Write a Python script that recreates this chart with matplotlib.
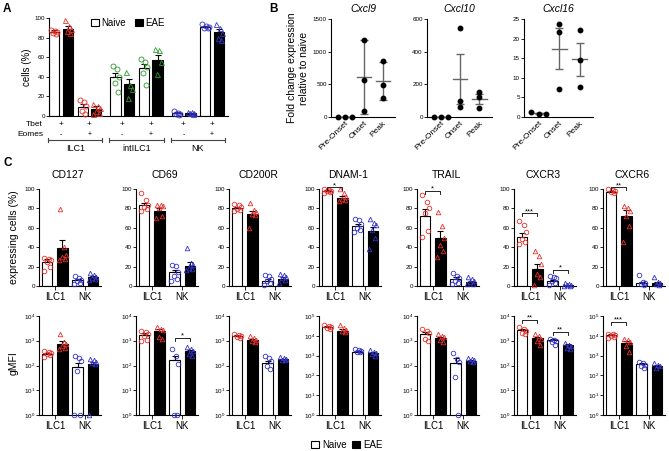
import numpy as np
import matplotlib
matplotlib.use("Agg")
import matplotlib.pyplot as plt
from matplotlib.patches import Patch

plt.rcParams['font.family'] = ['Liberation Sans', 'DejaVu Sans']
plt.rcParams['mathtext.fontset'] = 'custom'
plt.rcParams['mathtext.rm'] = 'Liberation Sans'

W, H = 669, 451

# ---------------- data: panel A ----------------
a_groups = ["ILC1", "intILC1", "NK"]
a_eomes = ["-", "+", "-", "+", "-", "+"]
a_naive = [86, 9, 40, 49, 3, 91]
a_eae = [89, 7, 33, 57, 3, 86]
a_naive_err = [2, 3, 4, 4, 1, 1]
a_eae_err = [3, 3, 4.5, 5, 0.5, 3]
a_naive_pts = [[88, 87, 86, 85, 84], [16, 14, 10, 5, 2], [51, 48, 40, 34, 25],
               [58, 55, 50, 44, 32], [5, 3, 2, 2, 1], [94, 92, 91, 90, 90]]
a_eae_pts = [[98, 92, 89, 87, 85], [12, 10, 8, 5, 3, 2], [45, 32, 28, 18],
             [68, 67, 55, 43], [4, 4, 3, 3, 2], [94, 90, 85, 80, 78]]

# ---------------- data: panel B ----------------
b_stages = ["Pre-Onset", "Onset", "Peak"]
b_genes = ["Cxcl9", "Cxcl10", "Cxcl16"]
cxcl9_pts = [[0, 0, 0], [1178, 566, 92], [857, 490, 290]]
cxcl9_mean = [0, 612, 551]
cxcl9_err = [0, 560, 290]
cxcl10_pts = [[0, 0, 0], [545, 98, 61], [153, 122, 55]]
cxcl10_mean = [0, 233, 110]
cxcl10_err = [0, 153, 28]
cxcl16_pts = [[1.2, 0.85, 0.8], [23.7, 21.6, 7.1], [22.3, 14.6, 7.6]]
cxcl16_mean = [0.95, 17.4, 14.7]
cxcl16_err = [0.1, 5.2, 4.25]

# ---------------- data: panel C ----------------
c_markers = ["CD127", "CD69", "CD200R", "DNAM-1", "TRAIL", "CXCR3", "CXCR6"]
# order inside each entry: ILC1 naive, ILC1 EAE, NK naive, NK EAE
pct_mean = [[25, 39, 6, 9], [83, 77.5, 14, 21], [80, 74, 5.5, 7.5], [98, 91, 62, 57],
            [72, 50, 7, 4], [51, 17.5, 5.5, 1], [97, 72, 3, 3]]
pct_sem = [[2.5, 8, 1.2, 1.2], [3, 3, 3, 3.5], [1.5, 3, 1.5, 1.5], [0.7, 2, 2, 4],
           [7, 7, 2, 1], [4, 5.5, 1.2, 0.5], [1, 6, 1.5, 1.5]]
pct_pts = [
    [[29, 28, 27, 25, 20, 15], [79, 40, 32, 30, 28, 27], [10, 8, 6, 5, 3, 2], [13, 11, 9, 8, 7, 6]],
    [[96, 89, 84, 81, 79, 77], [84, 83, 82, 80, 72, 70], [22, 21, 14, 10, 7, 5], [39, 24, 22, 19, 18, 17]],
    [[85, 83, 81, 79, 78, 77], [86, 78, 76, 74, 73, 60], [11, 10, 7, 5, 3, 1], [12, 11, 9, 8, 6, 3]],
    [[100, 99, 98, 98, 97, 96], [100, 96, 92, 90, 89, 88], [69, 68, 64, 60, 58, 56], [69, 65, 63, 58, 50, 38]],
    [[94, 87, 80, 75, 57, 51], [76, 62, 50, 42, 36, 30], [13, 10, 8, 5, 3, 2], [9, 7, 5, 4, 2, 2]],
    [[67, 63, 56, 48, 45, 43], [36, 31, 23, 12, 9, 1], [10, 9, 8, 5, 3, 1], [3, 2, 1, 1, 0.5, 0.5]],
    [[100, 99, 98, 97, 96], [82, 80, 77, 72, 62, 45], [11, 4, 3, 2, 1], [9, 4, 3, 2, 1]],
]
mfi_mean = [[300, 770, 90, 120], [1750, 2500, 160, 370], [1550, 1050, 130, 175],
            [28000, 18000, 1600, 1300], [1950, 1250, 125, 150], [2600, 1250, 1050, 680],
            [11000, 4400, 370, 290]]
mfi_sem = [[30, 250, 40, 20], [300, 400, 80, 60], [100, 100, 25, 15], [2500, 3000, 150, 150],
           [400, 200, 70, 15], [300, 200, 80, 60], [800, 900, 40, 30]]
mfi_pts = [
    [[380, 350, 320, 280, 260, 230], [1800, 900, 750, 600, 500, 450], [250, 200, 150, 60, 1, 1], [180, 160, 140, 130, 110, 1]],
    [[2500, 2200, 1900, 1500, 1100, 1000], [3500, 3000, 2800, 1400, 1200], [450, 250, 120, 1, 1], [550, 450, 400, 300, 250]],
    [[1800, 1700, 1600, 1400, 1300], [1500, 1300, 1100, 1000, 900], [250, 200, 150, 100, 70], [230, 210, 190, 170, 160]],
    [[35000, 30000, 27000, 25000, 23000], [35000, 25000, 20000, 18000, 15000], [2200, 2000, 1800, 1600, 1500], [1900, 1600, 1400, 1200, 1000]],
    [[3000, 2500, 2000, 1200, 1000], [1800, 1600, 1400, 1100, 900], [320, 180, 140, 35, 1], [200, 180, 160, 150, 140]],
    [[3500, 3000, 2500, 2000, 1800], [1800, 1500, 1200, 1000, 700], [1200, 1100, 1000, 900, 700], [800, 700, 600, 500, 450]],
    [[13000, 12000, 11000, 10000, 9000, 8000], [7000, 6000, 5000, 3000, 1500], [450, 400, 350, 300, 250], [400, 350, 300, 250]],
]
mfi_top = [1e4, 1e4, 1e4, 1e5, 1e4, 1e4, 1e5]
# significance: (marker index, row, pair, y, label)
c_sig = [(3, 0, 0, 102, "*"), (4, 0, 0, 98, "*"), (5, 0, 0, 75, "***"), (5, 0, 1, 16.5, "*"),
         (6, 0, 0, 102, "**"), (1, 1, 1, 1300, "*"), (5, 1, 0, 6900, "**"), (5, 1, 1, 2250, "**"),
         (6, 1, 0, 50000, "***")]

RED = "#e8302c"
GREEN = "#2f9a2f"
BLUE = "#3434c8"
JIT = [-0.55, 0.25, 0.65, -0.15, 0.45, -0.7]


def add_ax(fig, x0, y0, x1, y1):
    return fig.add_axes([x0 / W, 1 - y1 / H, (x1 - x0) / W, (y1 - y0) / H])


def style(ax):
    for s in ["top", "right"]:
        ax.spines[s].set_visible(False)
    for s in ["left", "bottom"]:
        ax.spines[s].set_linewidth(0.8)
    ax.tick_params(labelsize=4.5, length=2, width=0.6, pad=1)


def scatter(ax, x, vals, width, marker, color, size=3.3):
    n = len(vals)
    xs = [x + JIT[i % len(JIT)] * width / 2 for i in range(n)]
    ax.plot(xs, vals, linestyle="none", marker=marker, markersize=size, mfc="none",
            mec=color, mew=0.6, clip_on=False, zorder=4)


fig = plt.figure(figsize=(W / 100, H / 100), dpi=100)

# ================= Panel A =================
axA = add_ax(fig, 49, 18, 228, 116)
style(axA)
centers = np.array([0, 1, 2.15, 3.15, 4.3, 5.3])
pair_cols = [RED, RED, GREEN, GREEN, BLUE, BLUE]
bw = 0.36
xn = centers - 0.24
xe = centers + 0.24
axA.bar(xn, a_naive, bw, color="white", edgecolor="black", linewidth=0.8, zorder=2)
axA.bar(xe, a_eae, bw, color="black", edgecolor="black", linewidth=0.8, zorder=2)
axA.errorbar(xn, a_naive, yerr=[np.zeros(6), a_naive_err], fmt="none", ecolor="black",
             elinewidth=0.8, capsize=2, capthick=0.8, zorder=3)
axA.errorbar(xe, a_eae, yerr=[np.zeros(6), a_eae_err], fmt="none", ecolor="black",
             elinewidth=0.8, capsize=2, capthick=0.8, zorder=3)
for i in range(6):
    scatter(axA, xn[i], a_naive_pts[i], bw, "o", pair_cols[i], 3.6)
    scatter(axA, xe[i], a_eae_pts[i], bw, "^", pair_cols[i], 3.6)
axA.set_xlim(-0.42, 5.86)
axA.set_ylim(0, 100)
axA.set_yticks([0, 20, 40, 60, 80, 100])
axA.set_xticks([])
axA.set_ylabel("cells (%)", fontsize=7, labelpad=2)
tr = axA.get_xaxis_transform()
for i in range(6):
    axA.text(centers[i], -0.09, "+", transform=tr, ha="center", va="center", fontsize=6)
    axA.text(centers[i], -0.19, a_eomes[i], transform=tr, ha="center", va="center", fontsize=5)
for g in range(3):
    c = (centers[2 * g] + centers[2 * g + 1]) / 2
    x0, x1 = c - 0.95, c + 0.95
    axA.plot([x0, x1], [-0.245, -0.245], transform=tr, color="#444444", lw=0.8, clip_on=False)
    for xx in (x0, x1):
        axA.plot([xx, xx], [-0.22, -0.27], transform=tr, color="#444444", lw=0.8, clip_on=False)
    axA.text(c, -0.33, a_groups[g], transform=tr, ha="center", va="center", fontsize=6.5)
fig.text(43 / W, 1 - 125 / H, "Tbet", ha="right", va="center", fontsize=6)
fig.text(43 / W, 1 - 135 / H, "Eomes", ha="right", va="center", fontsize=6)
fig.legend(handles=[Patch(fc="white", ec="black", lw=0.8), Patch(fc="black", ec="black", lw=0.8)],
           labels=["Naive", "EAE"], ncol=2, loc="center", bbox_to_anchor=(128 / W, 1 - 23 / H),
           frameon=False, fontsize=7, handlelength=0.8, handleheight=0.8, handletextpad=0.3,
           columnspacing=0.9, borderpad=0)

# ================= Panel B =================
b_axes = [(331, 395), (427, 492), (524, 593)]
b_pts = [cxcl9_pts, cxcl10_pts, cxcl16_pts]
b_mean = [cxcl9_mean, cxcl10_mean, cxcl16_mean]
b_err = [cxcl9_err, cxcl10_err, cxcl16_err]
b_lims = [(1500, 500), (600, 200), (25, 5)]
for k in range(3):
    ax = add_ax(fig, b_axes[k][0], 19, b_axes[k][1], 117)
    style(ax)
    for j in range(3):
        offs = [-0.37, 0, 0.37] if j == 0 else [0, 0, 0]
        ax.plot([j + o for o in offs], b_pts[k][j], "o", color="black", markersize=3.2,
                clip_on=False, zorder=4, linestyle="none")
        ax.plot([j - 0.37, j + 0.37], [b_mean[k][j]] * 2, color="#666666", lw=1, zorder=3, clip_on=False)
        ax.errorbar([j], [b_mean[k][j]], yerr=[b_err[k][j]], fmt="none", ecolor="#666666",
                    elinewidth=1, capsize=3, capthick=1, zorder=3)
    ax.set_xlim(-0.72, 2.65)
    ax.set_ylim(0, b_lims[k][0])
    ax.set_yticks(np.arange(0, b_lims[k][0] + 1, b_lims[k][1]))
    ax.set_xticks([0, 1, 2])
    ax.set_xticklabels(b_stages, rotation=45, ha="right", rotation_mode="anchor", fontsize=6)
    ax.tick_params(axis="x", length=0, pad=2)
    ax.set_title(b_genes[k], fontsize=7.5, style="italic", pad=5)
    if k == 0:
        ax.set_ylabel("Fold change expression\nrelative to naive", fontsize=7.5, labelpad=3)

# ================= Panel C =================
col_x = [39, 136, 229, 319, 417, 514, 603]
pos = np.array([0, 1, 2, 3])
ccols = [RED, RED, BLUE, BLUE]
cmk = ["o", "^", "o", "^"]
cfc = ["white", "black", "white", "black"]
bwc = 0.68
for i, name in enumerate(c_markers):
    for row in range(2):
        if row == 0:
            ax = add_ax(fig, col_x[i], 189, col_x[i] + 62, 286)
            means, sems, pts = pct_mean[i], pct_sem[i], pct_pts[i]
        else:
            ax = add_ax(fig, col_x[i], 316, col_x[i] + 62, 415)
            means, sems, pts = mfi_mean[i], mfi_sem[i], mfi_pts[i]
        style(ax)
        ax.bar(pos, means, bwc, color=cfc, edgecolor="black", linewidth=0.8, zorder=2)
        ax.errorbar(pos, means, yerr=[np.zeros(4), sems], fmt="none", ecolor="black",
                    elinewidth=0.8, capsize=2, capthick=0.8, zorder=3)
        for j in range(4):
            scatter(ax, pos[j], pts[j], bwc, cmk[j], ccols[j])
        ax.set_xlim(-0.55, 3.55)
        ax.set_xticks([0.5, 2.5])
        ax.set_xticklabels(["ILC1", "NK"], fontsize=7)
        ax.tick_params(axis="x", length=3, pad=1.5)
        if row == 0:
            ax.set_ylim(0, 100)
            ax.set_yticks([0, 20, 40, 60, 80, 100])
            fig.text((col_x[i] + 29) / W, 1 - 180 / H, name, ha="center", va="bottom", fontsize=7.5)
        else:
            ax.set_yscale("log")
            ax.set_ylim(1, mfi_top[i])
            dec = int(round(np.log10(mfi_top[i])))
            ax.set_yticks([10 ** d for d in range(dec + 1)])
            ax.set_yticklabels(["$10^{%d}$" % d for d in range(dec + 1)])
            ax.minorticks_off()
        for (mi, r, p, yv, lab) in c_sig:
            if mi == i and r == row:
                x0, x1 = 2 * p, 2 * p + 1
                lo = yv - 3 if row == 0 else yv / 1.35
                ax.plot([x0, x0, x1, x1], [lo, yv, yv, lo], color="black", lw=0.6, clip_on=False, zorder=5)
                ax.annotate(lab, xy=((x0 + x1) / 2, yv), xytext=(0, 1.2), textcoords="offset points",
                            ha="center", va="center", fontsize=5.5, annotation_clip=False)

fig.text(14 / W, 1 - 237 / H, "expressing cells (%)", rotation=90, ha="center", va="center", fontsize=7.5)
fig.text(14 / W, 1 - 363 / H, "gMFI", rotation=90, ha="center", va="center", fontsize=7.5)
fig.legend(handles=[Patch(fc="white", ec="black", lw=0.8), Patch(fc="black", ec="black", lw=0.8)],
           labels=["Naive", "EAE"], ncol=2, loc="center", bbox_to_anchor=(347 / W, 1 - 445 / H),
           frameon=False, fontsize=7, handlelength=0.8, handleheight=0.8, handletextpad=0.3,
           columnspacing=0.6, borderpad=0)

# panel letters
fig.text(3 / W, 1 - 9 / H, "A", fontsize=8.5, fontweight="bold", va="center")
fig.text(269 / W, 1 - 9 / H, "B", fontsize=8.5, fontweight="bold", va="center")
fig.text(3 / W, 1 - 163 / H, "C", fontsize=8.5, fontweight="bold", va="center")

fig.savefig("out.png", dpi=100)
